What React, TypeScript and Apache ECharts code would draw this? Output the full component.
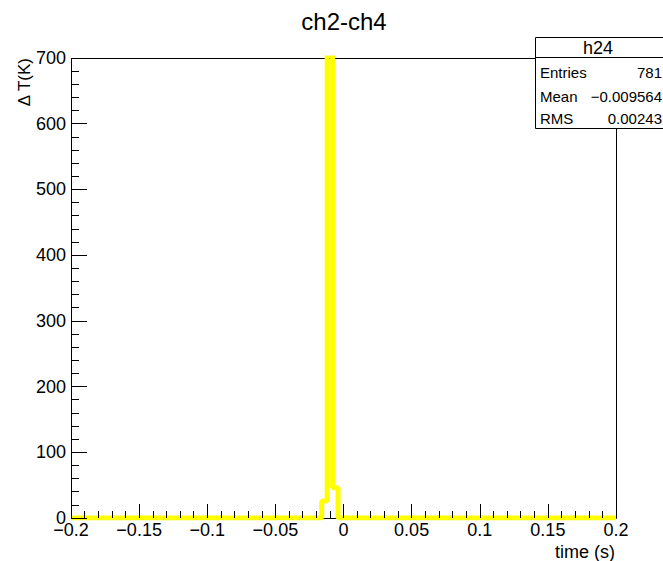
import React, { useEffect, useRef } from 'react';
import * as echarts from 'echarts';

const titleText = 'ch2-ch4';
const xAxisTitle = 'time (s)';
const yAxisTitle = 'Δ T(K)';
const xTickLabels = ['−0.2', '−0.15', '−0.1', '−0.05', '0', '0.05', '0.1', '0.15', '0.2'];
const yTickLabels = ['0', '100', '200', '300', '400', '500', '600', '700'];
// histogram bin low edges (last value = upper edge of the range) and bin contents
const binEdges = [-0.2, -0.016, -0.012, -0.008, -0.004, 0.2];
const binCounts = [0, 26, 709, 46, 0];
const statsName = 'h24';
const statsLabels = ['Entries', 'Mean', 'RMS'];
const statsValues = ['781', '−0.009564', '0.00243'];

const FONT = 'Liberation Sans, Arial, Helvetica, sans-serif';

export default function App() {
  const ref = useRef<HTMLDivElement>(null);
  useEffect(() => {
    document.body.style.margin = '0';
    if (!ref.current) return;
    const chart = echarts.init(ref.current, undefined, { renderer: 'svg' });
    const data: [number, number][] = binEdges.map((e, i) => [e, i < binCounts.length ? binCounts[i] : 0]);

    const rowYs = [72, 96.5, 118];
    const statsGraphics: any[] = [
      {
        type: 'rect', z: 100,
        shape: { x: 535.5, y: 37.5, width: 140, height: 91 },
        style: { fill: '#fff', stroke: '#000', lineWidth: 1 },
      },
      {
        type: 'line', z: 101,
        shape: { x1: 535.5, y1: 57.5, x2: 680, y2: 57.5 },
        style: { stroke: '#000', lineWidth: 1 },
      },
      {
        type: 'text', z: 101, x: 598, y: 48,
        style: { text: statsName, font: `18px ${FONT}`, fill: '#000', textAlign: 'center', verticalAlign: 'middle' },
      },
    ];
    statsLabels.forEach((l, i) => {
      statsGraphics.push({
        type: 'text', z: 101, x: 540, y: rowYs[i],
        style: { text: l, font: `15px ${FONT}`, fill: '#000', textAlign: 'left', verticalAlign: 'middle' },
      });
      statsGraphics.push({
        type: 'text', z: 101, x: 662, y: rowYs[i],
        style: { text: statsValues[i], font: `15px ${FONT}`, fill: '#000', textAlign: 'right', verticalAlign: 'middle' },
      });
    });

    const noLine = { show: false };
    chart.setOption({
      animation: false,
      grid: {
        left: 71, top: 58, width: 545, height: 460,
        show: false,
      },
      xAxis: [
        {
          type: 'value', min: -0.2, max: 0.2, interval: 0.05, position: 'bottom', z: 5,
          axisLine: { show: false, onZero: false },
          axisTick: { show: true, inside: true, length: 14, lineStyle: { color: '#000', width: 1 } },
          splitLine: { show: false },
          axisLabel: {
            color: '#000', fontSize: 18, fontFamily: FONT, margin: 3,
            showMinLabel: true, showMaxLabel: true,
            formatter: (v: number) => xTickLabels[Math.round((v + 0.2) / 0.05)] ?? '',
          },
        },
        {
          type: 'value', min: -0.2, max: 0.2, interval: 0.01, position: 'bottom', z: 5,
          axisLine: { show: false, onZero: false },
          axisTick: { show: true, inside: true, length: 7, lineStyle: { color: '#000', width: 1 } },
          splitLine: noLine,
          axisLabel: noLine,
        },
      ],
      yAxis: [
        {
          type: 'value', min: 0, max: 700, interval: 100, position: 'left', z: 5,
          axisLine: { show: false, onZero: false },
          axisTick: { show: true, inside: true, length: 16, lineStyle: { color: '#000', width: 1 } },
          splitLine: { show: false },
          axisLabel: {
            color: '#000', fontSize: 18, fontFamily: FONT, margin: 5,
            showMinLabel: true, showMaxLabel: true,
            formatter: (v: number) => yTickLabels[Math.round(v / 100)] ?? '',
          },
        },
        {
          type: 'value', min: 0, max: 700, interval: 20, position: 'left', z: 5,
          axisLine: { show: false, onZero: false },
          axisTick: { show: true, inside: true, length: 8, lineStyle: { color: '#000', width: 1 } },
          splitLine: noLine,
          axisLabel: noLine,
        },
      ],
      series: [
        {
          type: 'line', step: 'end', data, symbol: 'none', silent: true, clip: true,
          xAxisIndex: 0, yAxisIndex: 0,
          lineStyle: { color: '#ffff00', width: 5 },
        },
      ],
      graphic: [
        {
          type: 'rect', z: -1,
          shape: { x: 71.5, y: 58.5, width: 545, height: 460 },
          style: { fill: 'none', stroke: '#000', lineWidth: 1 },
        },
        {
          type: 'text', x: 344, y: 21,
          style: { text: titleText, font: `24px ${FONT}`, fill: '#000', textAlign: 'center', verticalAlign: 'middle' },
        },
        {
          type: 'text', x: 615, y: 552,
          style: { text: xAxisTitle, font: `18px ${FONT}`, fill: '#000', textAlign: 'right', verticalAlign: 'middle' },
        },
        {
          type: 'text', x: 24, y: 58, rotation: Math.PI / 2,
          style: { text: yAxisTitle, font: `17px ${FONT}`, fill: '#000', textAlign: 'right', verticalAlign: 'middle' },
        },
        ...statsGraphics,
      ],
    });
    return () => chart.dispose();
  }, []);
  return <div ref={ref} style={{ width: 663, height: 561 }} />;
}
